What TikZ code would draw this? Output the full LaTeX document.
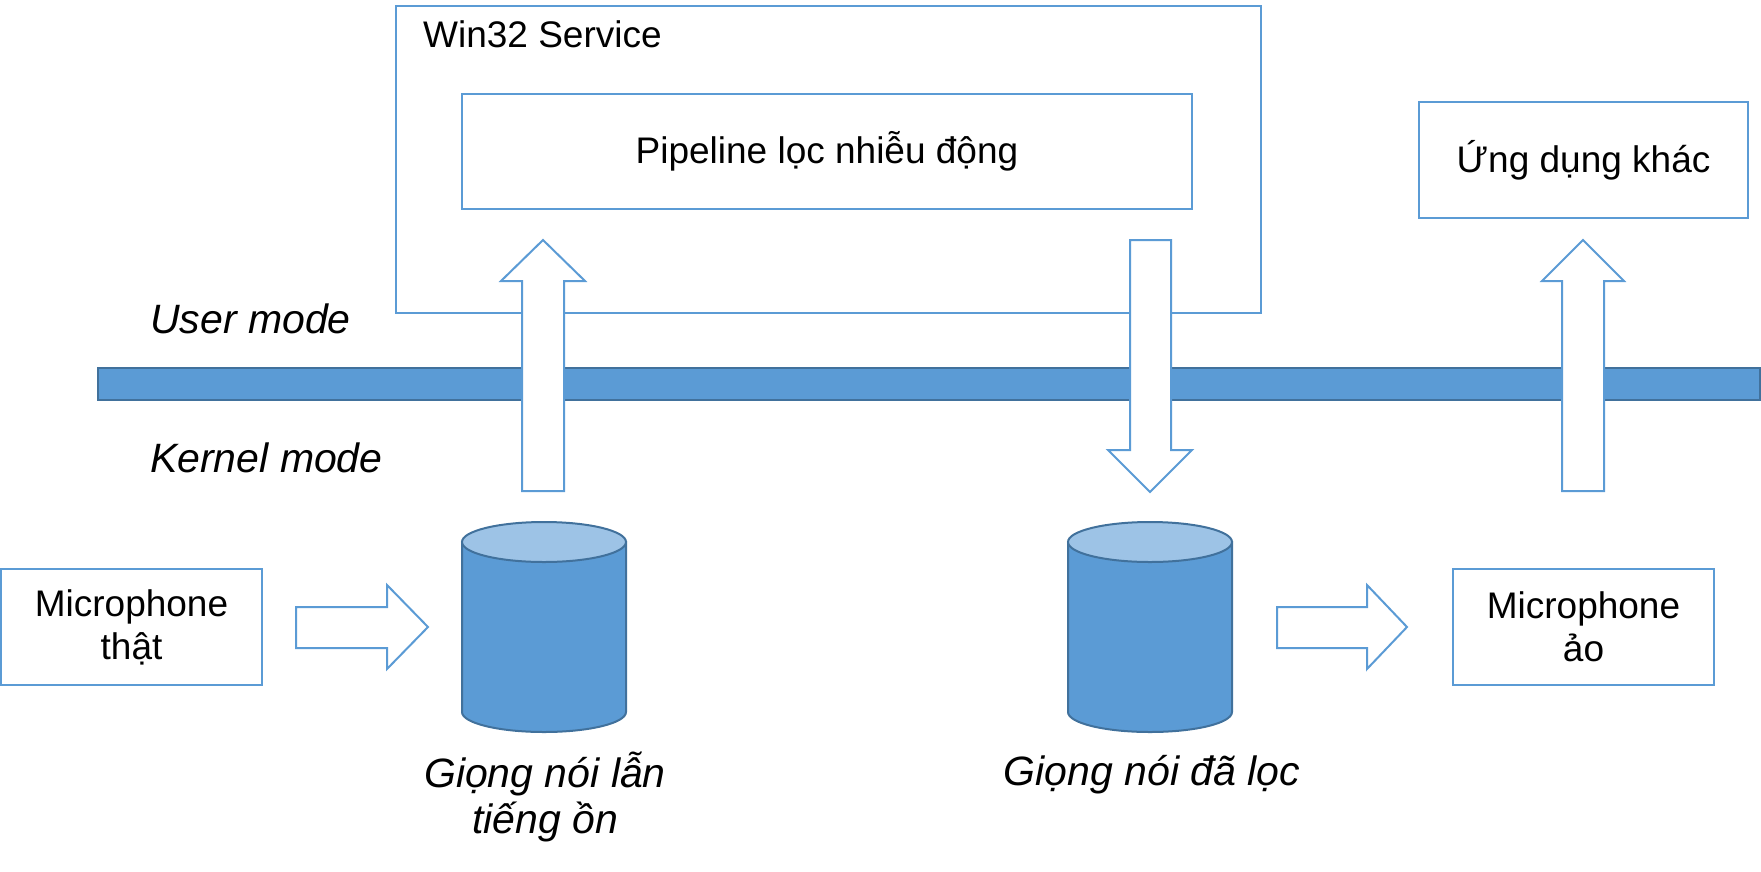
\documentclass[tikz,border=0pt]{standalone}
\usepackage{fontspec}
\setmainfont{Liberation Sans}
\definecolor{bl}{HTML}{5B9BD5}
\definecolor{dk}{HTML}{41719C}
\definecolor{lt}{HTML}{9DC3E6}
\begin{document}
\begin{tikzpicture}[x=1pt,y=-1pt,
 box/.style={draw=bl, line width=2pt, fill=white, inner sep=0pt, align=center, font=\fontsize{37}{43}\selectfont},
 txt/.style={font=\fontsize{37}{43}\selectfont, inner sep=0pt},
 lbl/.style={font=\fontsize{41}{46}\selectfont\itshape, inner sep=0pt},
 blk/.style={draw=bl, line width=2pt, fill=white, line join=miter},
 cylbody/.style={draw=dk, line width=2pt, fill=bl},
 cyltop/.style={draw=dk, line width=2pt, fill=lt},
 barstyle/.style={draw=dk, line width=2pt, fill=bl}]
\useasboundingbox (0,0) rectangle (1761,871);

% boxes
\node[box, minimum width=865pt, minimum height=307pt] (win) at (828.5,159.5) {};
\node[txt, anchor=base west] (wintxt) at (423,47) {Win32 Service};
\node[box, minimum width=730pt, minimum height=115pt] (pipe) at (827,151.5) {Pipeline lọc nhiễu động};
\node[box, minimum width=329pt, minimum height=116pt] (app) at (1583.5,160) {Ứng dụng khác};
\node[box, minimum width=261pt, minimum height=116pt] (micr) at (131.5,627) {Microphone\\thật};
\node[box, minimum width=261pt, minimum height=116pt] (micv) at (1583.5,627) {Microphone\\ảo};

% mode bar
\path[barstyle] (98,368) rectangle (1760,400);
\node[coordinate] (bar) at (929,384) {};
\node[lbl, anchor=base west] (user) at (150,333) {User mode};
\node[lbl, anchor=base west] (kernel) at (150,472) {Kernel mode};

% cylinders
\draw[cylbody] (462,542) -- (462,712) arc[start angle=180, end angle=0, x radius=82, y radius=20] -- (626,542) -- cycle;
\draw[cyltop] (544,542) ellipse[x radius=82, y radius=20];
\node[coordinate] (cylA) at (544,627) {};
\draw[cylbody] (1068,542) -- (1068,712) arc[start angle=180, end angle=0, x radius=82, y radius=20] -- (1232,542) -- cycle;
\draw[cyltop] (1150,542) ellipse[x radius=82, y radius=20];
\node[coordinate] (cylB) at (1150,627) {};

\node[lbl, anchor=base] (la1) at (545,787) {Giọng nói lẫn};
\node[lbl, anchor=base] (la2) at (545,833) {tiếng ồn};
\node[lbl, anchor=base] (lb) at (1152,785) {Giọng nói đã lọc};

% block arrows
\path[blk] (522,491) -- (522,281) -- (501,281) -- (543,240) -- (585,281) -- (564,281) -- (564,491) -- cycle;
\path[blk] (1562,491) -- (1562,281) -- (1542,281) -- (1583,240) -- (1624,281) -- (1604,281) -- (1604,491) -- cycle;
\path[blk] (1130,240) -- (1130,450) -- (1108,450) -- (1150,492) -- (1192,450) -- (1171,450) -- (1171,240) -- cycle;
\path[blk] (296,607) -- (387,607) -- (387,585) -- (428,627) -- (387,669) -- (387,648) -- (296,648) -- cycle;
\path[blk] (1277,607) -- (1367,607) -- (1367,585) -- (1407,627) -- (1367,669) -- (1367,648) -- (1277,648) -- cycle;
\end{tikzpicture}
\end{document}
